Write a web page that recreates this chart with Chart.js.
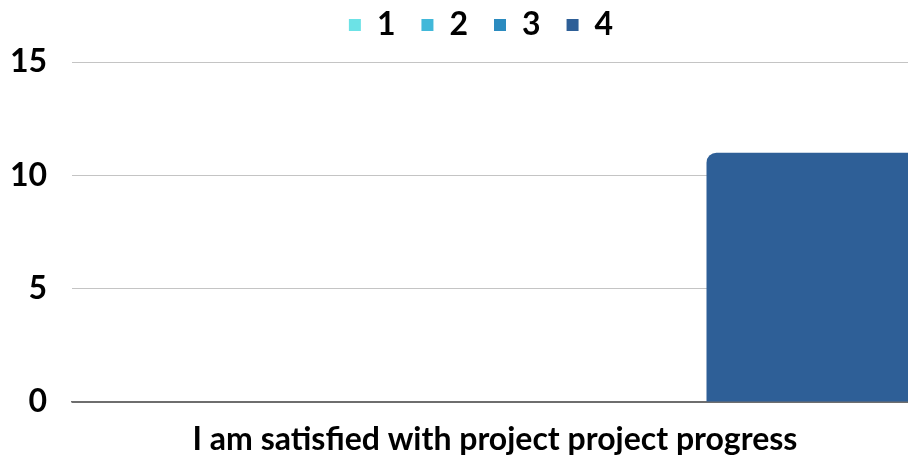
<!DOCTYPE html>
<html>
<head>
<meta charset="utf-8">
<script src="https://cdn.jsdelivr.net/npm/chart.js@4"></script>
<style>
  html, body { margin: 0; padding: 0; background: #fff; overflow: hidden; }
  canvas { display: block; }
</style>
</head>
<body>
<canvas id="chart" width="930" height="457"></canvas>
<script>
const categories = ['I am satisfied with project project progress'];
const seriesNames = ['1', '2', '3', '4'];
const seriesValues = [[0], [0], [0], [11]];
const seriesColors = ['#6ce2e6', '#41b8d9', '#2b8bbf', '#2e5f97'];
const yTicks = [0, 5, 10, 15];

const font = { family: 'Lato', weight: 'bold', size: 32 };

// nudge the legend: a bit right, a bit up, and shorter
const legendTweak = {
  id: 'legendTweak',
  beforeLayout(chart) {
    const lg = chart.legend;
    if (lg && !lg._patched) {
      const fit = lg.fit;
      lg.fit = function () { fit.call(this); this.height -= 6; };
      lg._patched = true;
    }
  },
  afterLayout(chart) {
    const lg = chart.legend;
    lg.left += 17; lg.right += 17;
    lg.top -= 17; lg.bottom -= 17;
  }
};

new Chart(document.getElementById('chart'), {
  type: 'bar',
  data: {
    labels: categories,
    datasets: seriesNames.map((name, i) => ({
      label: name,
      data: seriesValues[i],
      backgroundColor: seriesColors[i],
      borderRadius: { topLeft: 10, topRight: 10 },
      inflateAmount: 0,
      categoryPercentage: 1,
      barPercentage: 1
    }))
  },
  options: {
    responsive: false,
    animation: false,
    layout: { autoPadding: false, padding: { left: 10, right: 12, top: 0, bottom: 0 } },
    plugins: {
      tooltip: { enabled: false },
      legend: {
        position: 'top',
        labels: { color: '#000', font, boxWidth: 12, boxHeight: 12, padding: 26 }
      }
    },
    scales: {
      x: {
        grid: { display: false },
        border: { display: true, color: '#6e6e6e', width: 1.5 },
        ticks: { color: '#000', font, padding: 10 },
        afterFit: s => { s.height = 55; }
      },
      y: {
        min: 0,
        max: 15,
        afterBuildTicks: s => { s.ticks = yTicks.map(v => ({ value: v })); },
        afterFit: s => { s.width = 62; },
        border: { display: false },
        grid: {
          drawTicks: false,
          color: ctx => ctx.tick && ctx.tick.value === 0 ? '#6e6e6e' : '#c4c4c4',
          lineWidth: 1
        },
        ticks: { color: '#000', font, padding: 25 }
      }
    }
  },
  plugins: [legendTweak]
});
</script>
</body>
</html>
